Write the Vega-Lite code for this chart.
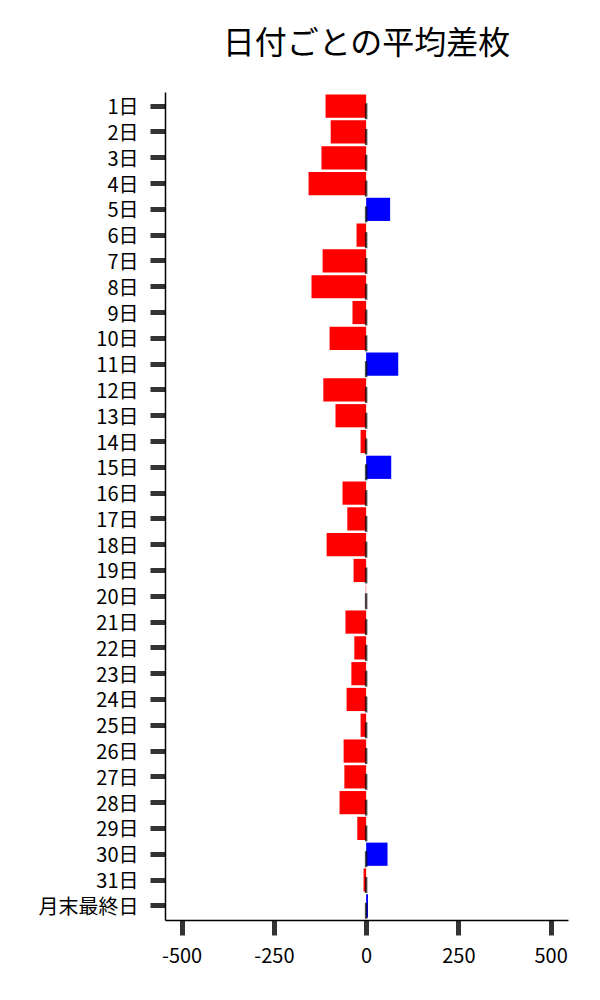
{
  "$schema": "https://vega.github.io/schema/vega-lite/v6.json",
  "autosize": "none",
  "padding": {"left": 165, "top": 92, "right": 32, "bottom": 80},
  "width": 403,
  "height": 828,
  "title": {"text": "日付ごとの平均差枚", "font": "Noto Sans CJK JP", "fontSize": 32, "fontWeight": "normal", "color": "#000000", "frame": "group", "anchor": "middle", "offset": 31},
  "config": {"view": {"stroke": null}, "font": "Noto Sans CJK JP"},
  "data": {"values": [
    {"day": "1日", "value": -110},
    {"day": "2日", "value": -96},
    {"day": "3日", "value": -121},
    {"day": "4日", "value": -156},
    {"day": "5日", "value": 65},
    {"day": "6日", "value": -26},
    {"day": "7日", "value": -118},
    {"day": "8日", "value": -148},
    {"day": "9日", "value": -37},
    {"day": "10日", "value": -99},
    {"day": "11日", "value": 87},
    {"day": "12日", "value": -116},
    {"day": "13日", "value": -83},
    {"day": "14日", "value": -15},
    {"day": "15日", "value": 68},
    {"day": "16日", "value": -64},
    {"day": "17日", "value": -51},
    {"day": "18日", "value": -107},
    {"day": "19日", "value": -34},
    {"day": "20日", "value": -1},
    {"day": "21日", "value": -56},
    {"day": "22日", "value": -32},
    {"day": "23日", "value": -40},
    {"day": "24日", "value": -53},
    {"day": "25日", "value": -15},
    {"day": "26日", "value": -61},
    {"day": "27日", "value": -59},
    {"day": "28日", "value": -72},
    {"day": "29日", "value": -24},
    {"day": "30日", "value": 58},
    {"day": "31日", "value": -7},
    {"day": "月末最終日", "value": 5}
  ]},
  "encoding": {
    "y": {
      "field": "day", "type": "nominal", "sort": null,
      "scale": {"paddingInner": 0.1, "paddingOuter": 0.1},
      "axis": {"title": null, "domainColor": "#000000", "domainWidth": 1.5, "tickColor": "#333333", "tickSize": 15, "tickWidth": 5, "labelFontSize": 20, "labelColor": "#000000", "labelPadding": 12, "labelOffset": 2, "labelFont": "Noto Sans CJK JP", "labelOverlap": false, "grid": false}
    }
  },
  "layer": [
    {
      "mark": {"type": "bar"},
      "encoding": {
        "x": {
          "field": "value", "type": "quantitative",
          "scale": {"domain": [-545, 547], "nice": false, "zero": false},
          "axis": {"title": null, "values": [-500, -250, 0, 250, 500], "domainColor": "#000000", "domainWidth": 1.5, "tickColor": "#333333", "tickSize": 15, "tickWidth": 5, "labelFontSize": 20, "labelColor": "#000000", "labelPadding": 11, "labelFont": "Noto Sans CJK JP", "grid": false, "labelExpr": "'' + datum.value"}
        },
        "color": {"condition": {"test": "datum.value < 0", "value": "#ff0000"}, "value": "#0000ff"}
      }
    },
    {
      "mark": {"type": "tick", "color": "#000000", "size": 16, "thickness": 2.5, "yOffset": 5},
      "encoding": {
        "x": {"datum": 0, "type": "quantitative"}
      }
    }
  ]
}
